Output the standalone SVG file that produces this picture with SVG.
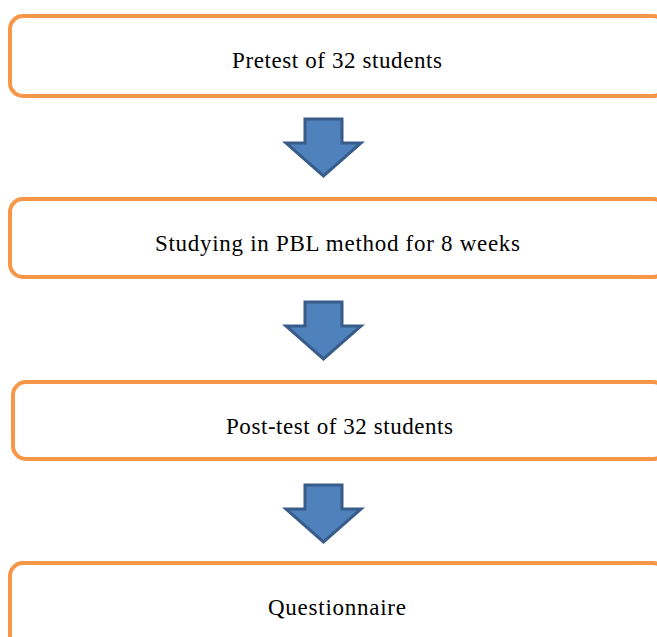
<svg xmlns="http://www.w3.org/2000/svg" width="657" height="637" viewBox="0 0 657 637">
<defs>
<style>
.box{fill:#fff;stroke:#F79646;stroke-width:4}
.arr{fill:#4F81BD;stroke:#385D8A;stroke-width:3;stroke-linejoin:miter}
.t{font-family:"Liberation Serif","Times New Roman",serif;font-size:23px;fill:#000;text-anchor:middle}
</style>
<path id="a" class="arr" d="M305,0 H342 V24 H361 L323.5,57 L286,24 H305 Z"/>
</defs>
<rect width="657" height="637" fill="#fff"/>
<g id="node1"><rect class="box" x="10" y="16" width="656" height="80" rx="13"/><text class="t" x="337" y="68" textLength="210" lengthAdjust="spacing">Pretest of 32 students</text></g>
<g id="node2"><rect class="box" x="10" y="199" width="656" height="78" rx="13"/><text class="t" x="337.5" y="251" textLength="365" lengthAdjust="spacing">Studying in PBL method for 8 weeks</text></g>
<g id="node3"><rect class="box" x="13" y="382" width="653" height="77" rx="13"/><text class="t" x="339.5" y="434" textLength="227" lengthAdjust="spacing">Post-test of 32 students</text></g>
<g id="node4"><rect class="box" x="10" y="563" width="656" height="90" rx="13"/><text class="t" x="337" y="615" textLength="138" lengthAdjust="spacing">Questionnaire</text></g>
<g id="connectors">
<use href="#a" y="119"/>
<use href="#a" y="302"/>
<use href="#a" y="485"/>
</g>
</svg>
